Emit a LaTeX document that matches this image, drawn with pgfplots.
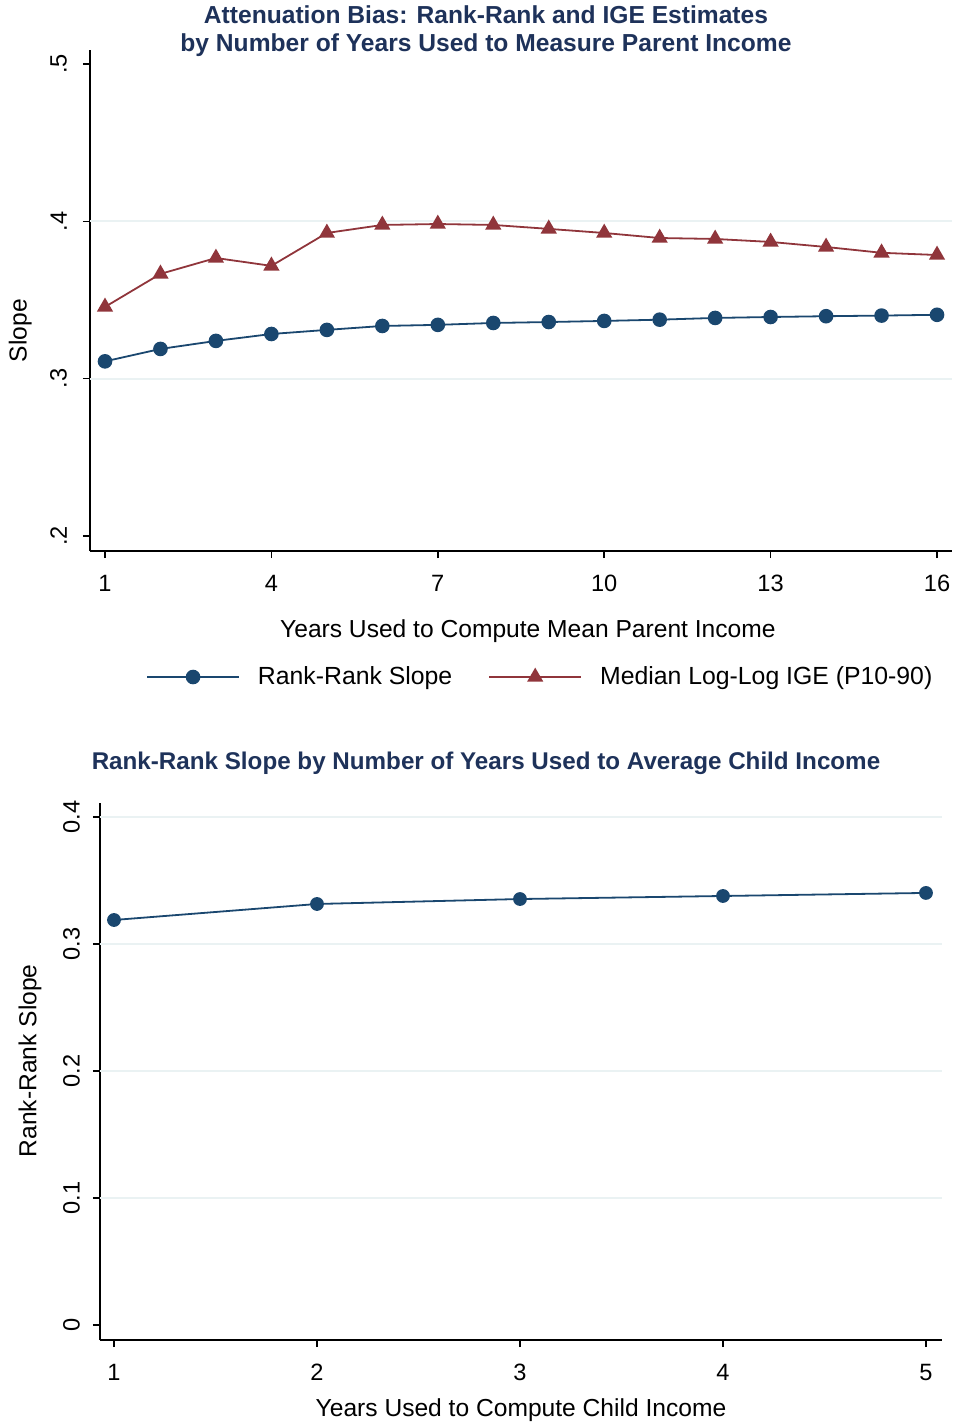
\documentclass[border=0pt]{standalone}
\usepackage{pgfplots}
\pgfplotsset{compat=1.18}
\usepackage{fontspec}
\setmainfont{Liberation Sans}
\definecolor{stblue}{RGB}{26,71,111}
\definecolor{stred}{RGB}{144,53,59}
\definecolor{sttitle}{RGB}{30,50,90}
\definecolor{stgrid}{RGB}{234,242,243}
\pgfplotsset{
  stata/.style={
    scale only axis,
    axis lines*=left,
    axis line style={-, line width=0.9pt},
    tick align=outside,
    major tick length=3.5pt,
    tick style={black, line width=0.8pt},
    ymajorgrids=false,
    /pgf/number format/assume math mode=true,
    ticklabel style={font=\fontsize{11.8}{13}\selectfont},
    xticklabel style={yshift=-5pt},
    yticklabel style={rotate=90, anchor=south, yshift=3pt},
    label style={font=\fontsize{12.3}{14}\selectfont},
    extra y tick labels={},
    extra y tick style={ymajorgrids=true, major tick length=0pt,
      major grid style={stgrid, line width=1pt}},
  }
}
\begin{document}
\begin{tikzpicture}
\path[use as bounding box] (0,0) rectangle (478pt,-712.5pt);
% top panel
\begin{axis}[stata,
  at={(45pt,-275.5pt)}, anchor=south west,
  width=431pt, height=250.5pt,
  xmin=0.7296, xmax=16.27, ymin=0.19046, ymax=0.5089,
  xtick={1,4,7,10,13,16},
  ytick={0.2,0.3,0.4,0.5}, yticklabels={.2,.3,.4,.5},
  yticklabel style={yshift=1.5pt},
  extra y ticks={0.3,0.4},
  xlabel={Years Used to Compute Mean Parent Income},
  ylabel={Slope},
  xlabel style={at={(axis description cs:0.508,-0.16)}, anchor=center},
  ylabel style={at={(axis description cs:-0.081,0.44)}, anchor=center},
  legend style={at={(axis description cs:0.5235,-0.2515)}, anchor=center,
    draw=none, fill=none, font=\fontsize{12.4}{14}\selectfont,
    legend columns=2,
    /tikz/every odd column/.append style={column sep=7pt},
    /tikz/every even column/.append style={column sep=16pt}},
  legend image code/.code={\draw[mark repeat=2,mark phase=2] plot coordinates {(0pt,0pt) (23pt,0pt) (46pt,0pt)};},
]
\addplot[stblue, line width=0.9pt, mark=*, mark size=3.2pt] coordinates {
  (1,0.311) (2,0.3189) (3,0.324) (4,0.3284) (5,0.331) (6,0.3335)
  (7,0.3342) (8,0.3354) (9,0.336) (10,0.3367) (11,0.3375) (12,0.3386)
  (13,0.3392) (14,0.3397) (15,0.3401) (16,0.3406)
};
\addlegendentry{Rank-Rank Slope}
\addplot[stred, line width=0.9pt, mark=triangle*, mark size=3.8pt] coordinates {
  (1,0.3456) (2,0.3666) (3,0.3767) (4,0.3717) (5,0.3926) (6,0.3977)
  (7,0.3983) (8,0.3977) (9,0.3952) (10,0.3926) (11,0.3894) (12,0.3888)
  (13,0.3869) (14,0.3837) (15,0.3800) (16,0.3786)
};
\addlegendentry{Median Log-Log IGE (P10-90)}
\end{axis}
% bottom panel
\begin{axis}[stata,
  at={(50pt,-670pt)}, anchor=south west,
  width=421pt, height=268.5pt,
  xmin=0.931, xmax=5.079, ymin=-0.0118, ymax=0.411,
  xtick={1,2,3,4,5},
  ytick={0,0.1,0.2,0.3,0.4}, yticklabels={0,0.1,0.2,0.3,0.4},
  extra y ticks={0.1,0.2,0.3,0.4},
  xlabel={Years Used to Compute Child Income},
  ylabel={Rank-Rank Slope},
  xlabel style={at={(axis description cs:0.5,-0.131)}, anchor=center},
  ylabel style={at={(axis description cs:-0.083,0.52)}, anchor=center},
]
\addplot[stblue, line width=0.9pt, mark=*, mark size=3pt] coordinates {
  (1,0.3189) (2,0.3315) (3,0.3354) (4,0.3378) (5,0.3402)
};
\end{axis}
\node[align=center, text=sttitle, font=\bfseries\fontsize{12.3}{14}\selectfont] at (243pt,-15.5pt)
  {Attenuation Bias: Rank-Rank and IGE Estimates\\by Number of Years Used to Measure Parent Income};
\node[text=sttitle, font=\bfseries\fontsize{12.1}{14}\selectfont] at (243pt,-381.5pt)
  {Rank-Rank Slope by Number of Years Used to Average Child Income};
\end{tikzpicture}
\end{document}
